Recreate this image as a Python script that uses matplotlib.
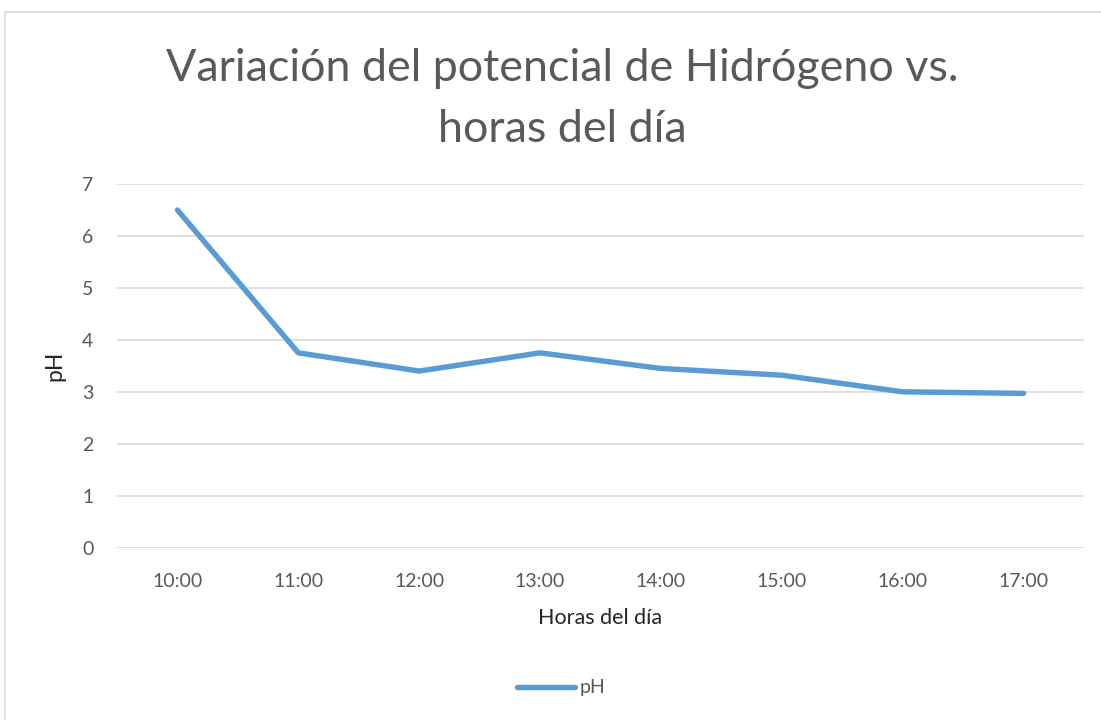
import matplotlib.pyplot as plt
from matplotlib.patches import Rectangle
from matplotlib.lines import Line2D

horas = ['10:00', '11:00', '12:00', '13:00', '14:00', '15:00', '16:00', '17:00']
ph = [6.5, 3.75, 3.4, 3.75, 3.45, 3.32, 3.0, 2.97]

gris = '#595959'
azul = '#5B9BD5'

plt.rcParams['font.family'] = ['Lato', 'DejaVu Sans']

fig = plt.figure(figsize=(11.01, 7.20), dpi=100)
ax = fig.add_axes([117 / 1101, 1 - 547.7 / 720, (1084 - 117) / 1101, (547.7 - 184) / 720])

x = list(range(len(horas)))
ax.plot(x, ph, color=azul, lw=3.9, solid_capstyle='round', solid_joinstyle='round',
        label='pH', zorder=3)

ax.set_xlim(-0.5, len(horas) - 0.5)
ax.set_ylim(0, 7)
ax.set_yticks(range(0, 8))
ax.set_xticks(x)
ax.set_xticklabels(horas)
ax.grid(axis='y', color='#D9D9D9', lw=1.2)
ax.set_axisbelow(True)
for s in ax.spines.values():
    s.set_visible(False)
ax.tick_params(length=0, colors=gris, labelsize=14)
ax.tick_params(axis='x', pad=18)
ax.tick_params(axis='y', pad=17)

ax.set_xlabel('Horas del día', fontsize=15.5, color='#262626', labelpad=13)
ax.set_ylabel('pH', fontsize=16.5, color='#262626', labelpad=12)

fig.text(0.511, 1 - 99 / 720, 'Variación del potencial de Hidrógeno vs.\nhoras del día',
         ha='center', va='center', fontsize=32.3, color=gris, linespacing=1.62)

# leyenda al pie
leg_line = Line2D([0], [0], color=azul, lw=3.9, solid_capstyle='round')
fig.legend([leg_line], ['pH'], loc='center', bbox_to_anchor=(561 / 1101, 1 - 688 / 720),
           frameon=False, fontsize=14, labelcolor=gris, handlelength=3.0,
           handletextpad=0.25)

# marco del gráfico
fig.patches.append(Rectangle((5 / 1101, -0.1), 1.2, 1 - 12 / 720 + 0.1,
                             transform=fig.transFigure, fill=False,
                             edgecolor='#D9D9D9', lw=1.2))

fig.savefig('out.png', dpi=100)
